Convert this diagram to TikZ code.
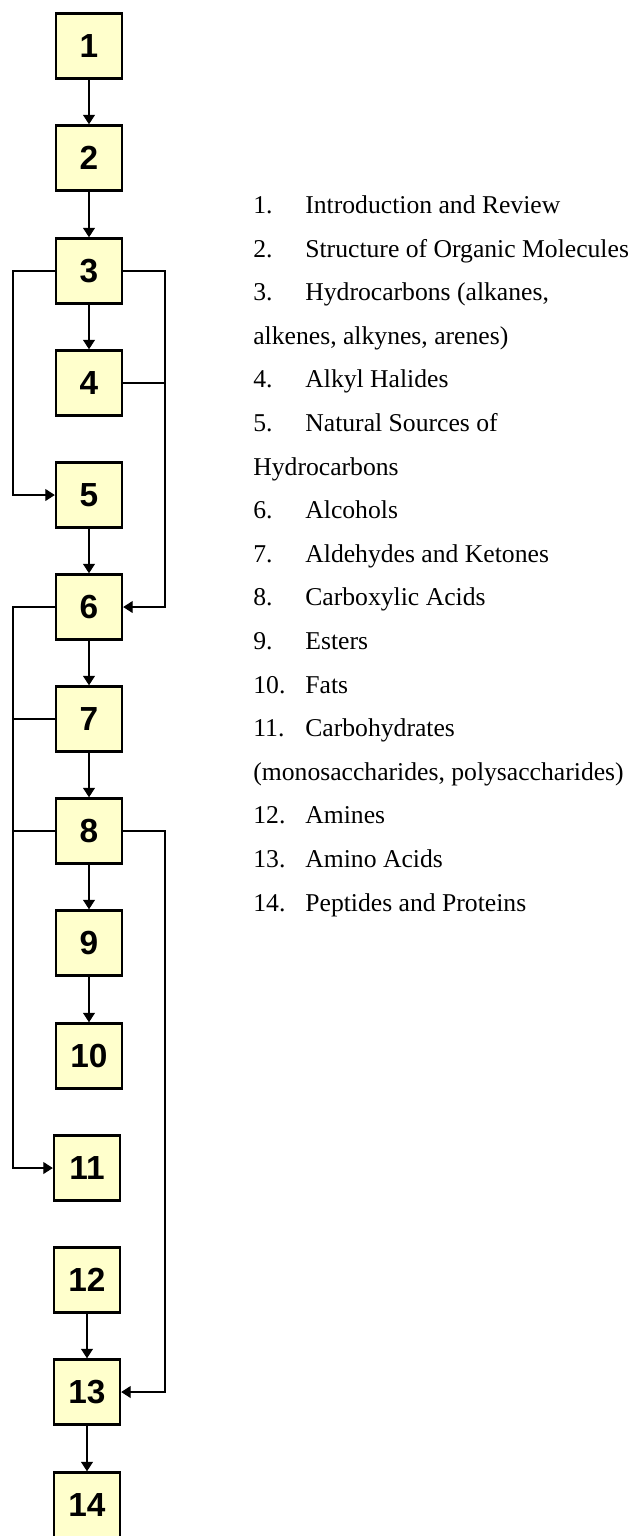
\documentclass[tikz,border=0pt]{standalone}
\usepackage{fontspec}
\setmainfont{Liberation Serif}
\newfontfamily\boxfont{Liberation Sans}
\usetikzlibrary{arrows.meta}

\definecolor{boxfill}{HTML}{FFFFCC}
\tikzset{
  unit/.style={draw=black, line width=1.4pt, fill=boxfill, minimum width=1.32cm,
    minimum height=1.3cm, inner sep=0pt, font=\boxfont\bfseries\fontsize{19}{19}\selectfont},
  arr/.style={-{Triangle[length=0.19cm,width=0.24cm]}, line width=0.6pt},
  link/.style={line width=0.6pt},
  item/.style={anchor=base west, inner sep=0pt, font=\fontsize{14.6}{17}\selectfont}
}

\begin{document}
\begin{tikzpicture}[x=0.02cm,y=0.02cm]
\useasboundingbox (0,0) rectangle (636,-1536);
% boxes
\node[unit] (b1) at (89,-46) {1};
\node[unit] (b2) at (89,-158) {2};
\node[unit] (b3) at (89,-271) {3};
\node[unit] (b4) at (89,-383) {4};
\node[unit] (b5) at (89,-495) {5};
\node[unit] (b6) at (89,-607) {6};
\node[unit] (b7) at (89,-719) {7};
\node[unit] (b8) at (89,-831) {8};
\node[unit] (b9) at (89,-943) {9};
\node[unit] (b10) at (89,-1056) {10};
\node[unit] (b11) at (87,-1168) {11};
\node[unit] (b12) at (87,-1280) {12};
\node[unit] (b13) at (87,-1392) {13};
\node[unit] (b14) at (87,-1505) {14};
% side buses
\coordinate (lbus) at (13,0);
\coordinate (rbus) at (165,0);
% straight chain
\draw[arr] (b1) -- (b2);
\draw[arr] (b2) -- (b3);
\draw[arr] (b3) -- (b4);
\draw[arr] (b5) -- (b6);
\draw[arr] (b6) -- (b7);
\draw[arr] (b7) -- (b8);
\draw[arr] (b8) -- (b9);
\draw[arr] (b9) -- (b10);
\draw[arr] (b12) -- (b13);
\draw[arr] (b13) -- (b14);
% 3 -> 5 and 3,4 -> 6
\draw[arr] (b3.west) -- (b3.west -| lbus) |- (b5.west);
\draw[arr] (b3.east) -- (b3.east -| rbus) |- (b6.east);
\draw[link] (b4.east) -- (b4.east -| rbus);
% 6,7,8 -> 11
\draw[arr] (b6.west) -- (b6.west -| lbus) |- (b11.west);
\draw[link] (b7.west) -- (b7.west -| lbus);
\draw[link] (b8.west) -- (b8.west -| lbus);
% 8 -> 13
\draw[arr] (b8.east) -- (b8.east -| rbus) |- (b13.east);
% legend
\node[item] (n1) at (253,-213) {1.};
\node[item] (t1) at (305,-213) {Introduction and Review};
\node[item] (n2) at (253,-257) {2.};
\node[item] (t2) at (305,-257) {Structure of Organic Molecules};
\node[item] (n3) at (253,-300) {3.};
\node[item] (t3) at (305,-300) {Hydrocarbons (alkanes,};
\node[item] (t3b) at (253,-344) {alkenes, alkynes, arenes)};
\node[item] (n4) at (253,-387) {4.};
\node[item] (t4) at (305,-387) {Alkyl Halides};
\node[item] (n5) at (253,-431) {5.};
\node[item] (t5) at (305,-431) {Natural Sources of};
\node[item] (t5b) at (253,-475) {Hydrocarbons};
\node[item] (n6) at (253,-518) {6.};
\node[item] (t6) at (305,-518) {Alcohols};
\node[item] (n7) at (253,-562) {7.};
\node[item] (t7) at (305,-562) {Aldehydes and Ketones};
\node[item] (n8) at (253,-605) {8.};
\node[item] (t8) at (305,-605) {Carboxylic Acids};
\node[item] (n9) at (253,-649) {9.};
\node[item] (t9) at (305,-649) {Esters};
\node[item] (n10) at (253,-693) {10.};
\node[item] (t10) at (305,-693) {Fats};
\node[item] (n11) at (253,-736) {11.};
\node[item] (t11) at (305,-736) {Carbohydrates};
\node[item] (t11b) at (253,-780) {(monosaccharides, polysaccharides)};
\node[item] (n12) at (253,-823) {12.};
\node[item] (t12) at (305,-823) {Amines};
\node[item] (n13) at (253,-867) {13.};
\node[item] (t13) at (305,-867) {Amino Acids};
\node[item] (n14) at (253,-911) {14.};
\node[item] (t14) at (305,-911) {Peptides and Proteins};
\end{tikzpicture}
\end{document}
